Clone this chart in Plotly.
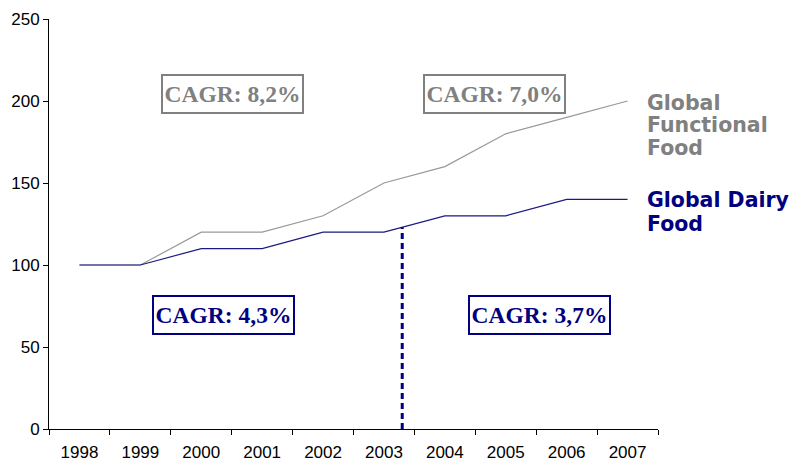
import plotly.graph_objects as go

years = ['1998', '1999', '2000', '2001', '2002', '2003', '2004', '2005', '2006', '2007']
functional = [100, 100, 120, 120, 130, 150, 160, 180, 190, 200]
dairy = [100, 100, 110, 110, 120, 120, 130, 130, 140, 140]
y_ticks = [0, 50, 100, 150, 200, 250]

gray = '#808080'
navy = '#000080'

fig = go.Figure()
fig.add_trace(go.Scatter(x=years, y=functional, mode='lines', name='Global Functional Food',
                         line=dict(color='#999999', width=1.2)))
fig.add_trace(go.Scatter(x=years, y=dairy, mode='lines', name='Global Dairy Food',
                         line=dict(color='#1a1a80', width=1.2)))

# split between the two CAGR periods
split_x = 5.30
split_y = dairy[5] + (dairy[6] - dairy[5]) * (split_x - 5)
fig.add_shape(type='line', x0=split_x, x1=split_x, y0=0, y1=split_y, xref='x', yref='y',
              line=dict(color=navy, width=3, dash='6px,4px'))

box_font = dict(family='Liberation Serif', size=23.5)
boxes = [
    (2.51, 204.5, 'CAGR: 8,2%', gray),
    (6.82, 204.5, 'CAGR: 7,0%', gray),
    (2.37, 69.7, 'CAGR: 4,3%', navy),
    (7.55, 69.7, 'CAGR: 3,7%', navy),
]
for bx, by, txt, col in boxes:
    fig.add_annotation(x=bx, y=by, xref='x', yref='y', text='<b>' + txt + '</b>', showarrow=False,
                       font=dict(color=col, **box_font), bordercolor=col, borderwidth=2,
                       borderpad=1, width=137, height=34, bgcolor='white')

# series labels, one annotation per line for tight spacing
labels = [
    ('Global', 199.0, gray),
    ('Functional', 185.2, gray),
    ('Food', 171.1, gray),
    ('Global Dairy', 139.4, navy),
    ('Food', 125.3, navy),
]
for txt, ly, col in labels:
    fig.add_annotation(x=0.979, y=ly, xref='paper', yref='y', xanchor='left', align='left',
                       text='<b>' + txt + '</b>', showarrow=False,
                       font=dict(family='DejaVu Sans', size=20.5, color=col))

# page body adds 8px, so the figure is a bit smaller than the window
fig.update_layout(
    width=790, height=454,
    margin=dict(l=41, r=140, t=11, b=33),
    plot_bgcolor='white', paper_bgcolor='white',
    showlegend=False,
    font=dict(family='Liberation Sans', size=17, color='black'),
)
fig.update_xaxes(type='category', range=[-0.5, 9.5], showgrid=False, showline=True,
                 linecolor='black', linewidth=1, ticks='outside', ticklen=5,
                 tickson='boundaries', tickcolor='black', automargin=False,
                 ticklabelstandoff=8)
fig.update_yaxes(range=[0, 250], tickvals=y_ticks, showgrid=False, showline=True,
                 linecolor='black', linewidth=1, ticks='outside', ticklen=5,
                 tickcolor='black', zeroline=False, automargin=False)

fig.write_html('out.html')
